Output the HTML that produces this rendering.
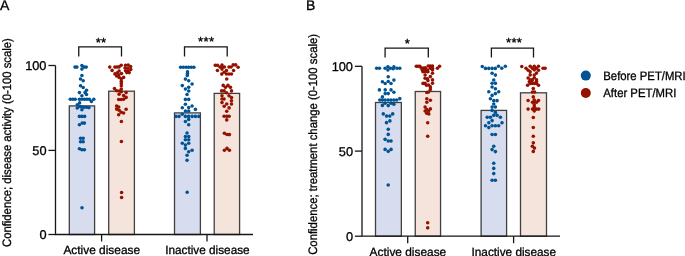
<!DOCTYPE html>
<html lang="en"><head><meta charset="utf-8"><title>Figure</title>
<style>
html,body{margin:0;padding:0;background:#fff;}
body{width:685px;height:256px;overflow:hidden;}
svg{display:block;}
text{font-family:"Liberation Sans",Arial,sans-serif;fill:#000;stroke:#000;stroke-width:0.3px;text-rendering:geometricPrecision;}
</style></head><body>
<svg width="685" height="256" viewBox="0 0 685 256">
<rect width="685" height="256" fill="#fff"/>
<g id="panelA">
<text x="0" y="10.2" font-size="14">A</text>
<text transform="translate(11.1,247.0) rotate(-90)" font-size="12.2" style="font-variant-ligatures:none" textLength="208.8" lengthAdjust="spacingAndGlyphs">Confidence; disease activity (0-100 scale)</text>
<rect x="69.3" y="105.90" width="25.30" height="128.60" fill="#D7DCEE" stroke="#404040" stroke-width="1.3"/>
<rect x="108.7" y="91.20" width="25.70" height="143.30" fill="#F5E4DC" stroke="#404040" stroke-width="1.3"/>
<rect x="174.5" y="112.90" width="25.90" height="121.60" fill="#D7DCEE" stroke="#404040" stroke-width="1.3"/>
<rect x="214.2" y="93.40" width="25.40" height="141.10" fill="#F5E4DC" stroke="#404040" stroke-width="1.3"/>
<g fill="#005493">
<circle cx="75.00" cy="67.10" r="1.78"/>
<circle cx="76.90" cy="67.10" r="1.78"/>
<circle cx="81.90" cy="65.60" r="1.78"/>
<circle cx="81.90" cy="69.10" r="1.78"/>
<circle cx="84.00" cy="67.10" r="1.78"/>
<circle cx="86.20" cy="67.10" r="1.78"/>
<circle cx="81.90" cy="75.50" r="1.78"/>
<circle cx="80.50" cy="79.00" r="1.78"/>
<circle cx="83.20" cy="80.80" r="1.78"/>
<circle cx="80.50" cy="85.70" r="1.78"/>
<circle cx="83.20" cy="87.50" r="1.78"/>
<circle cx="86.50" cy="90.20" r="1.78"/>
<circle cx="79.40" cy="92.60" r="1.78"/>
<circle cx="85.10" cy="92.60" r="1.78"/>
<circle cx="86.50" cy="94.50" r="1.78"/>
<circle cx="81.90" cy="95.70" r="1.78"/>
<circle cx="70.30" cy="99.20" r="1.78"/>
<circle cx="72.80" cy="99.20" r="1.78"/>
<circle cx="75.20" cy="99.20" r="1.78"/>
<circle cx="79.40" cy="99.20" r="1.78"/>
<circle cx="81.90" cy="99.20" r="1.78"/>
<circle cx="84.40" cy="99.20" r="1.78"/>
<circle cx="86.80" cy="99.20" r="1.78"/>
<circle cx="89.30" cy="99.20" r="1.78"/>
<circle cx="93.80" cy="99.20" r="1.78"/>
<circle cx="91.40" cy="101.40" r="1.78"/>
<circle cx="79.60" cy="102.90" r="1.78"/>
<circle cx="77.30" cy="104.80" r="1.78"/>
<circle cx="77.30" cy="108.00" r="1.78"/>
<circle cx="79.80" cy="106.50" r="1.78"/>
<circle cx="81.90" cy="107.00" r="1.78"/>
<circle cx="84.40" cy="107.30" r="1.78"/>
<circle cx="86.80" cy="107.30" r="1.78"/>
<circle cx="88.90" cy="107.60" r="1.78"/>
<circle cx="81.90" cy="109.70" r="1.78"/>
<circle cx="79.40" cy="116.40" r="1.78"/>
<circle cx="81.90" cy="116.40" r="1.78"/>
<circle cx="84.60" cy="116.40" r="1.78"/>
<circle cx="79.40" cy="124.70" r="1.78"/>
<circle cx="82.20" cy="123.10" r="1.78"/>
<circle cx="84.40" cy="123.10" r="1.78"/>
<circle cx="80.60" cy="138.30" r="1.78"/>
<circle cx="83.20" cy="138.30" r="1.78"/>
<circle cx="80.60" cy="141.80" r="1.78"/>
<circle cx="83.20" cy="141.80" r="1.78"/>
<circle cx="79.40" cy="148.70" r="1.78"/>
<circle cx="81.90" cy="149.70" r="1.78"/>
<circle cx="84.40" cy="149.70" r="1.78"/>
<circle cx="82.00" cy="207.75" r="1.78"/>
</g>
<g fill="#941100">
<circle cx="109.75" cy="67.10" r="1.78"/>
<circle cx="112.10" cy="70.40" r="1.78"/>
<circle cx="114.90" cy="67.10" r="1.78"/>
<circle cx="117.00" cy="67.00" r="1.78"/>
<circle cx="119.10" cy="66.90" r="1.78"/>
<circle cx="121.20" cy="65.20" r="1.78"/>
<circle cx="125.60" cy="65.30" r="1.78"/>
<circle cx="128.20" cy="65.00" r="1.78"/>
<circle cx="130.60" cy="66.60" r="1.78"/>
<circle cx="125.00" cy="68.00" r="1.78"/>
<circle cx="127.80" cy="68.20" r="1.78"/>
<circle cx="130.80" cy="69.50" r="1.78"/>
<circle cx="125.60" cy="70.80" r="1.78"/>
<circle cx="128.20" cy="71.00" r="1.78"/>
<circle cx="126.80" cy="72.60" r="1.78"/>
<circle cx="129.20" cy="72.60" r="1.78"/>
<circle cx="114.90" cy="73.90" r="1.78"/>
<circle cx="117.30" cy="72.80" r="1.78"/>
<circle cx="119.10" cy="71.00" r="1.78"/>
<circle cx="116.60" cy="76.00" r="1.78"/>
<circle cx="118.70" cy="74.90" r="1.78"/>
<circle cx="121.50" cy="73.50" r="1.78"/>
<circle cx="119.10" cy="77.40" r="1.78"/>
<circle cx="123.60" cy="77.40" r="1.78"/>
<circle cx="121.30" cy="78.80" r="1.78"/>
<circle cx="121.30" cy="81.20" r="1.78"/>
<circle cx="121.30" cy="83.40" r="1.78"/>
<circle cx="121.30" cy="85.80" r="1.78"/>
<circle cx="114.50" cy="88.60" r="1.78"/>
<circle cx="116.60" cy="90.70" r="1.78"/>
<circle cx="119.10" cy="91.00" r="1.78"/>
<circle cx="121.30" cy="89.00" r="1.78"/>
<circle cx="121.30" cy="91.70" r="1.78"/>
<circle cx="119.10" cy="94.20" r="1.78"/>
<circle cx="126.10" cy="92.60" r="1.78"/>
<circle cx="123.60" cy="95.60" r="1.78"/>
<circle cx="126.10" cy="97.40" r="1.78"/>
<circle cx="118.70" cy="99.50" r="1.78"/>
<circle cx="121.20" cy="99.50" r="1.78"/>
<circle cx="123.60" cy="99.30" r="1.78"/>
<circle cx="116.60" cy="106.00" r="1.78"/>
<circle cx="118.70" cy="107.00" r="1.78"/>
<circle cx="116.60" cy="109.10" r="1.78"/>
<circle cx="119.10" cy="110.20" r="1.78"/>
<circle cx="126.10" cy="109.30" r="1.78"/>
<circle cx="121.20" cy="112.30" r="1.78"/>
<circle cx="123.60" cy="113.00" r="1.78"/>
<circle cx="118.70" cy="114.80" r="1.78"/>
<circle cx="121.40" cy="121.50" r="1.78"/>
<circle cx="121.40" cy="141.50" r="1.78"/>
<circle cx="121.60" cy="192.50" r="1.78"/>
<circle cx="121.60" cy="197.50" r="1.78"/>
</g>
<g fill="#005493">
<circle cx="180.60" cy="67.20" r="1.78"/>
<circle cx="183.30" cy="67.20" r="1.78"/>
<circle cx="186.00" cy="67.20" r="1.78"/>
<circle cx="188.60" cy="67.20" r="1.78"/>
<circle cx="191.30" cy="67.20" r="1.78"/>
<circle cx="193.90" cy="67.20" r="1.78"/>
<circle cx="187.50" cy="71.80" r="1.78"/>
<circle cx="187.50" cy="73.60" r="1.78"/>
<circle cx="187.30" cy="75.40" r="1.78"/>
<circle cx="185.40" cy="79.10" r="1.78"/>
<circle cx="188.70" cy="80.70" r="1.78"/>
<circle cx="192.10" cy="84.00" r="1.78"/>
<circle cx="182.30" cy="85.60" r="1.78"/>
<circle cx="188.70" cy="87.20" r="1.78"/>
<circle cx="185.40" cy="89.05" r="1.78"/>
<circle cx="188.70" cy="90.95" r="1.78"/>
<circle cx="187.05" cy="94.50" r="1.78"/>
<circle cx="185.40" cy="99.40" r="1.78"/>
<circle cx="188.70" cy="99.40" r="1.78"/>
<circle cx="185.40" cy="104.25" r="1.78"/>
<circle cx="192.10" cy="106.00" r="1.78"/>
<circle cx="182.30" cy="107.80" r="1.78"/>
<circle cx="188.70" cy="107.60" r="1.78"/>
<circle cx="195.40" cy="109.40" r="1.78"/>
<circle cx="185.40" cy="111.10" r="1.78"/>
<circle cx="188.70" cy="111.10" r="1.78"/>
<circle cx="182.30" cy="114.30" r="1.78"/>
<circle cx="175.90" cy="116.40" r="1.78"/>
<circle cx="179.00" cy="116.40" r="1.78"/>
<circle cx="185.40" cy="116.40" r="1.78"/>
<circle cx="188.60" cy="116.40" r="1.78"/>
<circle cx="192.10" cy="116.40" r="1.78"/>
<circle cx="195.40" cy="116.40" r="1.78"/>
<circle cx="198.80" cy="116.40" r="1.78"/>
<circle cx="188.70" cy="119.40" r="1.78"/>
<circle cx="185.40" cy="121.50" r="1.78"/>
<circle cx="188.70" cy="124.80" r="1.78"/>
<circle cx="187.05" cy="132.95" r="1.78"/>
<circle cx="185.40" cy="136.50" r="1.78"/>
<circle cx="188.70" cy="136.50" r="1.78"/>
<circle cx="185.40" cy="139.80" r="1.78"/>
<circle cx="188.70" cy="139.80" r="1.78"/>
<circle cx="182.30" cy="143.20" r="1.78"/>
<circle cx="188.70" cy="143.20" r="1.78"/>
<circle cx="185.40" cy="145.10" r="1.78"/>
<circle cx="185.40" cy="148.40" r="1.78"/>
<circle cx="192.10" cy="150.20" r="1.78"/>
<circle cx="188.70" cy="151.70" r="1.78"/>
<circle cx="187.05" cy="155.20" r="1.78"/>
<circle cx="187.05" cy="160.30" r="1.78"/>
<circle cx="187.20" cy="192.30" r="1.78"/>
</g>
<g fill="#941100">
<circle cx="215.30" cy="65.30" r="1.78"/>
<circle cx="217.40" cy="65.30" r="1.78"/>
<circle cx="222.00" cy="65.10" r="1.78"/>
<circle cx="233.20" cy="64.90" r="1.78"/>
<circle cx="235.70" cy="64.90" r="1.78"/>
<circle cx="219.90" cy="67.00" r="1.78"/>
<circle cx="222.00" cy="67.40" r="1.78"/>
<circle cx="224.40" cy="67.00" r="1.78"/>
<circle cx="229.00" cy="67.00" r="1.78"/>
<circle cx="231.10" cy="67.00" r="1.78"/>
<circle cx="238.10" cy="67.20" r="1.78"/>
<circle cx="222.00" cy="69.10" r="1.78"/>
<circle cx="217.40" cy="70.50" r="1.78"/>
<circle cx="226.50" cy="70.50" r="1.78"/>
<circle cx="233.60" cy="70.50" r="1.78"/>
<circle cx="224.10" cy="72.30" r="1.78"/>
<circle cx="221.80" cy="74.10" r="1.78"/>
<circle cx="226.50" cy="74.00" r="1.78"/>
<circle cx="229.00" cy="74.00" r="1.78"/>
<circle cx="231.50" cy="74.00" r="1.78"/>
<circle cx="226.75" cy="79.05" r="1.78"/>
<circle cx="223.20" cy="85.40" r="1.78"/>
<circle cx="227.95" cy="85.40" r="1.78"/>
<circle cx="225.50" cy="87.35" r="1.78"/>
<circle cx="230.40" cy="87.35" r="1.78"/>
<circle cx="221.60" cy="90.90" r="1.78"/>
<circle cx="224.10" cy="90.90" r="1.78"/>
<circle cx="231.50" cy="90.90" r="1.78"/>
<circle cx="226.50" cy="92.70" r="1.78"/>
<circle cx="222.00" cy="95.80" r="1.78"/>
<circle cx="229.00" cy="95.80" r="1.78"/>
<circle cx="231.50" cy="97.60" r="1.78"/>
<circle cx="222.00" cy="99.00" r="1.78"/>
<circle cx="224.10" cy="99.00" r="1.78"/>
<circle cx="231.50" cy="100.80" r="1.78"/>
<circle cx="222.00" cy="102.60" r="1.78"/>
<circle cx="226.75" cy="104.00" r="1.78"/>
<circle cx="231.50" cy="104.00" r="1.78"/>
<circle cx="224.20" cy="106.30" r="1.78"/>
<circle cx="229.10" cy="107.90" r="1.78"/>
<circle cx="226.75" cy="111.20" r="1.78"/>
<circle cx="224.10" cy="116.30" r="1.78"/>
<circle cx="226.75" cy="116.30" r="1.78"/>
<circle cx="229.10" cy="116.30" r="1.78"/>
<circle cx="226.75" cy="119.90" r="1.78"/>
<circle cx="224.40" cy="133.20" r="1.78"/>
<circle cx="227.00" cy="134.50" r="1.78"/>
<circle cx="229.40" cy="134.60" r="1.78"/>
<circle cx="224.40" cy="150.20" r="1.78"/>
<circle cx="227.00" cy="148.40" r="1.78"/>
<circle cx="229.40" cy="150.20" r="1.78"/>
</g>
<path d="M55.5 65.50V234.5H253" fill="none" stroke="#161616" stroke-width="1.3"/>
<path d="M48.4 234.50H55.5" stroke="#161616" stroke-width="1.3"/>
<text x="46.5" y="238.95" text-anchor="end" font-size="12.8">0</text>
<path d="M48.4 150.40H55.5" stroke="#161616" stroke-width="1.3"/>
<text x="46.5" y="154.85" text-anchor="end" font-size="12.8">50</text>
<path d="M48.4 65.50H55.5" stroke="#161616" stroke-width="1.3"/>
<text x="46.5" y="69.95" text-anchor="end" font-size="12.8">100</text>
<path d="M101.6 234.5V241.5" stroke="#161616" stroke-width="1.3"/>
<path d="M207.0 234.5V241.5" stroke="#161616" stroke-width="1.3"/>
<text x="101.75" y="253.60" text-anchor="middle" font-size="11.9">Active disease</text>
<text x="207.4" y="253.60" text-anchor="middle" font-size="11.9" textLength="84.5" lengthAdjust="spacingAndGlyphs">Inactive disease</text>
<path d="M78.75 56.6V46.95H121.5V56.6" fill="none" stroke="#161616" stroke-width="1.3"/>
<text x="100.9" y="46.85" text-anchor="middle" font-size="13.2">**</text>
<path d="M184.5 56.6V46.95H227.2V56.6" fill="none" stroke="#161616" stroke-width="1.3"/>
<text x="206.25" y="45.75" text-anchor="middle" font-size="13.2" letter-spacing="0.3">***</text>
</g>
<g id="panelB">
<text x="306" y="10.2" font-size="14">B</text>
<text transform="translate(317.0,254.8) rotate(-90)" font-size="12.2" style="font-variant-ligatures:none" textLength="220.8" lengthAdjust="spacingAndGlyphs">Confidence; treatment change (0-100 scale)</text>
<rect x="375.5" y="102.50" width="25.85" height="133.70" fill="#D7DCEE" stroke="#404040" stroke-width="1.3"/>
<rect x="415.25" y="91.50" width="25.30" height="144.70" fill="#F5E4DC" stroke="#404040" stroke-width="1.3"/>
<rect x="481.1" y="110.40" width="25.50" height="125.80" fill="#D7DCEE" stroke="#404040" stroke-width="1.3"/>
<rect x="520.5" y="92.80" width="26.00" height="143.40" fill="#F5E4DC" stroke="#404040" stroke-width="1.3"/>
<g fill="#005493">
<circle cx="376.65" cy="68.30" r="1.78"/>
<circle cx="379.50" cy="68.30" r="1.78"/>
<circle cx="385.10" cy="68.30" r="1.78"/>
<circle cx="387.90" cy="66.70" r="1.78"/>
<circle cx="387.90" cy="70.00" r="1.78"/>
<circle cx="390.50" cy="68.30" r="1.78"/>
<circle cx="393.90" cy="66.90" r="1.78"/>
<circle cx="393.20" cy="68.80" r="1.78"/>
<circle cx="397.00" cy="68.30" r="1.78"/>
<circle cx="399.80" cy="68.30" r="1.78"/>
<circle cx="388.25" cy="76.70" r="1.78"/>
<circle cx="393.90" cy="80.10" r="1.78"/>
<circle cx="382.40" cy="81.70" r="1.78"/>
<circle cx="388.25" cy="81.50" r="1.78"/>
<circle cx="385.20" cy="83.45" r="1.78"/>
<circle cx="391.05" cy="83.45" r="1.78"/>
<circle cx="379.40" cy="89.90" r="1.78"/>
<circle cx="385.20" cy="89.90" r="1.78"/>
<circle cx="391.05" cy="89.90" r="1.78"/>
<circle cx="393.90" cy="92.20" r="1.78"/>
<circle cx="385.20" cy="93.60" r="1.78"/>
<circle cx="388.25" cy="93.60" r="1.78"/>
<circle cx="382.40" cy="96.90" r="1.78"/>
<circle cx="399.80" cy="98.65" r="1.78"/>
<circle cx="379.80" cy="100.05" r="1.78"/>
<circle cx="382.40" cy="100.05" r="1.78"/>
<circle cx="385.20" cy="100.05" r="1.78"/>
<circle cx="388.25" cy="100.05" r="1.78"/>
<circle cx="391.05" cy="100.05" r="1.78"/>
<circle cx="393.90" cy="100.05" r="1.78"/>
<circle cx="396.70" cy="100.05" r="1.78"/>
<circle cx="382.40" cy="105.40" r="1.78"/>
<circle cx="385.10" cy="103.30" r="1.78"/>
<circle cx="388.25" cy="105.60" r="1.78"/>
<circle cx="391.05" cy="103.30" r="1.78"/>
<circle cx="393.90" cy="104.30" r="1.78"/>
<circle cx="383.30" cy="113.90" r="1.78"/>
<circle cx="386.60" cy="116.10" r="1.78"/>
<circle cx="389.80" cy="116.10" r="1.78"/>
<circle cx="392.70" cy="113.90" r="1.78"/>
<circle cx="389.90" cy="120.90" r="1.78"/>
<circle cx="386.50" cy="122.65" r="1.78"/>
<circle cx="388.25" cy="129.20" r="1.78"/>
<circle cx="388.25" cy="134.40" r="1.78"/>
<circle cx="385.10" cy="139.35" r="1.78"/>
<circle cx="388.25" cy="141.00" r="1.78"/>
<circle cx="391.05" cy="141.00" r="1.78"/>
<circle cx="385.10" cy="149.40" r="1.78"/>
<circle cx="391.05" cy="149.40" r="1.78"/>
<circle cx="388.25" cy="151.35" r="1.78"/>
<circle cx="388.20" cy="185.00" r="1.78"/>
</g>
<g fill="#941100">
<circle cx="416.30" cy="66.30" r="1.78"/>
<circle cx="418.10" cy="66.30" r="1.78"/>
<circle cx="419.80" cy="66.30" r="1.78"/>
<circle cx="428.25" cy="66.00" r="1.78"/>
<circle cx="430.35" cy="66.00" r="1.78"/>
<circle cx="432.50" cy="66.00" r="1.78"/>
<circle cx="439.50" cy="66.30" r="1.78"/>
<circle cx="421.20" cy="68.10" r="1.78"/>
<circle cx="423.30" cy="68.10" r="1.78"/>
<circle cx="425.40" cy="67.90" r="1.78"/>
<circle cx="430.35" cy="68.30" r="1.78"/>
<circle cx="432.50" cy="68.30" r="1.78"/>
<circle cx="437.40" cy="68.30" r="1.78"/>
<circle cx="422.60" cy="70.20" r="1.78"/>
<circle cx="425.10" cy="70.00" r="1.78"/>
<circle cx="427.50" cy="70.00" r="1.78"/>
<circle cx="432.50" cy="70.00" r="1.78"/>
<circle cx="423.00" cy="71.70" r="1.78"/>
<circle cx="425.40" cy="71.70" r="1.78"/>
<circle cx="427.90" cy="71.70" r="1.78"/>
<circle cx="432.50" cy="73.30" r="1.78"/>
<circle cx="425.10" cy="74.95" r="1.78"/>
<circle cx="430.35" cy="76.60" r="1.78"/>
<circle cx="425.10" cy="78.20" r="1.78"/>
<circle cx="427.50" cy="78.70" r="1.78"/>
<circle cx="432.50" cy="79.90" r="1.78"/>
<circle cx="427.90" cy="80.60" r="1.78"/>
<circle cx="423.00" cy="83.40" r="1.78"/>
<circle cx="425.10" cy="83.40" r="1.78"/>
<circle cx="432.50" cy="83.20" r="1.78"/>
<circle cx="426.50" cy="85.20" r="1.78"/>
<circle cx="428.60" cy="85.00" r="1.78"/>
<circle cx="430.35" cy="86.90" r="1.78"/>
<circle cx="430.35" cy="89.40" r="1.78"/>
<circle cx="426.80" cy="92.50" r="1.78"/>
<circle cx="428.60" cy="92.00" r="1.78"/>
<circle cx="426.80" cy="98.70" r="1.78"/>
<circle cx="430.35" cy="100.30" r="1.78"/>
<circle cx="426.80" cy="102.30" r="1.78"/>
<circle cx="425.10" cy="107.10" r="1.78"/>
<circle cx="430.35" cy="108.90" r="1.78"/>
<circle cx="426.80" cy="109.60" r="1.78"/>
<circle cx="425.10" cy="111.00" r="1.78"/>
<circle cx="428.60" cy="111.00" r="1.78"/>
<circle cx="426.70" cy="113.30" r="1.78"/>
<circle cx="428.80" cy="113.90" r="1.78"/>
<circle cx="427.70" cy="122.70" r="1.78"/>
<circle cx="427.70" cy="136.20" r="1.78"/>
<circle cx="427.70" cy="222.80" r="1.78"/>
<circle cx="427.70" cy="227.85" r="1.78"/>
</g>
<g fill="#005493">
<circle cx="482.30" cy="66.50" r="1.78"/>
<circle cx="485.50" cy="68.40" r="1.78"/>
<circle cx="488.80" cy="68.40" r="1.78"/>
<circle cx="492.10" cy="68.40" r="1.78"/>
<circle cx="495.30" cy="68.40" r="1.78"/>
<circle cx="498.50" cy="66.30" r="1.78"/>
<circle cx="501.80" cy="68.30" r="1.78"/>
<circle cx="505.35" cy="66.30" r="1.78"/>
<circle cx="492.10" cy="73.20" r="1.78"/>
<circle cx="495.40" cy="75.10" r="1.78"/>
<circle cx="493.75" cy="80.00" r="1.78"/>
<circle cx="492.10" cy="83.30" r="1.78"/>
<circle cx="495.40" cy="83.30" r="1.78"/>
<circle cx="492.10" cy="87.00" r="1.78"/>
<circle cx="495.40" cy="88.75" r="1.78"/>
<circle cx="488.80" cy="91.80" r="1.78"/>
<circle cx="498.70" cy="91.80" r="1.78"/>
<circle cx="495.40" cy="93.60" r="1.78"/>
<circle cx="492.10" cy="95.40" r="1.78"/>
<circle cx="490.40" cy="98.70" r="1.78"/>
<circle cx="493.75" cy="100.65" r="1.78"/>
<circle cx="497.05" cy="100.65" r="1.78"/>
<circle cx="493.75" cy="104.00" r="1.78"/>
<circle cx="492.10" cy="107.05" r="1.78"/>
<circle cx="495.40" cy="107.05" r="1.78"/>
<circle cx="492.10" cy="110.40" r="1.78"/>
<circle cx="495.40" cy="112.40" r="1.78"/>
<circle cx="493.75" cy="115.35" r="1.78"/>
<circle cx="497.05" cy="115.35" r="1.78"/>
<circle cx="487.20" cy="117.30" r="1.78"/>
<circle cx="490.40" cy="117.30" r="1.78"/>
<circle cx="500.40" cy="117.30" r="1.78"/>
<circle cx="492.10" cy="120.60" r="1.78"/>
<circle cx="488.80" cy="122.70" r="1.78"/>
<circle cx="502.00" cy="122.70" r="1.78"/>
<circle cx="485.50" cy="125.80" r="1.78"/>
<circle cx="492.10" cy="125.80" r="1.78"/>
<circle cx="495.40" cy="125.80" r="1.78"/>
<circle cx="498.70" cy="125.80" r="1.78"/>
<circle cx="488.80" cy="127.60" r="1.78"/>
<circle cx="492.10" cy="134.55" r="1.78"/>
<circle cx="495.40" cy="134.55" r="1.78"/>
<circle cx="493.75" cy="146.25" r="1.78"/>
<circle cx="492.10" cy="149.60" r="1.78"/>
<circle cx="495.40" cy="151.60" r="1.78"/>
<circle cx="493.75" cy="163.30" r="1.78"/>
<circle cx="493.75" cy="168.40" r="1.78"/>
<circle cx="493.75" cy="173.60" r="1.78"/>
<circle cx="492.10" cy="180.30" r="1.78"/>
<circle cx="495.40" cy="180.30" r="1.78"/>
</g>
<g fill="#941100">
<circle cx="521.80" cy="66.50" r="1.78"/>
<circle cx="526.00" cy="68.30" r="1.78"/>
<circle cx="528.10" cy="70.20" r="1.78"/>
<circle cx="530.20" cy="71.80" r="1.78"/>
<circle cx="530.20" cy="66.30" r="1.78"/>
<circle cx="534.25" cy="66.30" r="1.78"/>
<circle cx="538.50" cy="66.30" r="1.78"/>
<circle cx="532.35" cy="68.30" r="1.78"/>
<circle cx="536.35" cy="68.30" r="1.78"/>
<circle cx="534.25" cy="69.85" r="1.78"/>
<circle cx="538.50" cy="70.20" r="1.78"/>
<circle cx="543.00" cy="68.30" r="1.78"/>
<circle cx="545.10" cy="68.30" r="1.78"/>
<circle cx="536.55" cy="73.10" r="1.78"/>
<circle cx="530.20" cy="74.90" r="1.78"/>
<circle cx="534.25" cy="75.00" r="1.78"/>
<circle cx="528.10" cy="78.00" r="1.78"/>
<circle cx="534.25" cy="77.80" r="1.78"/>
<circle cx="530.20" cy="79.90" r="1.78"/>
<circle cx="532.35" cy="79.90" r="1.78"/>
<circle cx="536.55" cy="79.90" r="1.78"/>
<circle cx="529.30" cy="81.80" r="1.78"/>
<circle cx="531.60" cy="81.80" r="1.78"/>
<circle cx="536.55" cy="81.80" r="1.78"/>
<circle cx="530.20" cy="83.40" r="1.78"/>
<circle cx="532.35" cy="83.40" r="1.78"/>
<circle cx="534.60" cy="83.40" r="1.78"/>
<circle cx="536.55" cy="83.40" r="1.78"/>
<circle cx="527.60" cy="85.20" r="1.78"/>
<circle cx="538.50" cy="85.20" r="1.78"/>
<circle cx="533.30" cy="88.60" r="1.78"/>
<circle cx="532.50" cy="92.00" r="1.78"/>
<circle cx="534.60" cy="92.00" r="1.78"/>
<circle cx="533.30" cy="96.90" r="1.78"/>
<circle cx="528.10" cy="100.45" r="1.78"/>
<circle cx="538.50" cy="100.45" r="1.78"/>
<circle cx="534.25" cy="100.10" r="1.78"/>
<circle cx="532.50" cy="102.20" r="1.78"/>
<circle cx="534.40" cy="102.00" r="1.78"/>
<circle cx="536.55" cy="102.20" r="1.78"/>
<circle cx="534.25" cy="104.70" r="1.78"/>
<circle cx="534.25" cy="106.80" r="1.78"/>
<circle cx="528.10" cy="109.10" r="1.78"/>
<circle cx="532.50" cy="109.10" r="1.78"/>
<circle cx="534.60" cy="109.10" r="1.78"/>
<circle cx="536.55" cy="109.10" r="1.78"/>
<circle cx="538.70" cy="109.10" r="1.78"/>
<circle cx="534.25" cy="111.00" r="1.78"/>
<circle cx="533.30" cy="117.50" r="1.78"/>
<circle cx="533.30" cy="127.55" r="1.78"/>
<circle cx="533.30" cy="136.20" r="1.78"/>
<circle cx="533.30" cy="142.85" r="1.78"/>
<circle cx="532.35" cy="146.30" r="1.78"/>
<circle cx="534.45" cy="148.10" r="1.78"/>
<circle cx="533.30" cy="151.40" r="1.78"/>
</g>
<path d="M362.0 66.30V236.2H560" fill="none" stroke="#161616" stroke-width="1.3"/>
<path d="M354.9 236.20H362.0" stroke="#161616" stroke-width="1.3"/>
<text x="353.0" y="240.65" text-anchor="end" font-size="12.8">0</text>
<path d="M354.9 151.10H362.0" stroke="#161616" stroke-width="1.3"/>
<text x="353.0" y="155.55" text-anchor="end" font-size="12.8">50</text>
<path d="M354.9 66.30H362.0" stroke="#161616" stroke-width="1.3"/>
<text x="353.0" y="70.75" text-anchor="end" font-size="12.8">100</text>
<path d="M407.7 236.2V243.2" stroke="#161616" stroke-width="1.3"/>
<path d="M513.6 236.2V243.2" stroke="#161616" stroke-width="1.3"/>
<text x="407.9" y="255.90" text-anchor="middle" font-size="11.9">Active disease</text>
<text x="513.8" y="255.90" text-anchor="middle" font-size="11.9" textLength="84.5" lengthAdjust="spacingAndGlyphs">Inactive disease</text>
<path d="M385.1 57.5V48.05H428.3V57.5" fill="none" stroke="#161616" stroke-width="1.3"/>
<text x="407.3" y="47.60" text-anchor="middle" font-size="13.2">*</text>
<path d="M491.4 57.5V48.05H533.5V57.5" fill="none" stroke="#161616" stroke-width="1.3"/>
<text x="514.15" y="46.50" text-anchor="middle" font-size="13.2" letter-spacing="0.3">***</text>
</g>
<g id="legend"><circle cx="585.8" cy="75.6" r="5.0" fill="#005493"/><circle cx="585.8" cy="93.0" r="5.0" fill="#941100"/>
<text x="603.3" y="79.7" font-size="12.1" textLength="82.4" lengthAdjust="spacingAndGlyphs">Before PET/MRI</text>
<text x="603.3" y="97.0" font-size="12.1" textLength="73.0" lengthAdjust="spacingAndGlyphs">After PET/MRI</text></g>
</svg></body></html>
